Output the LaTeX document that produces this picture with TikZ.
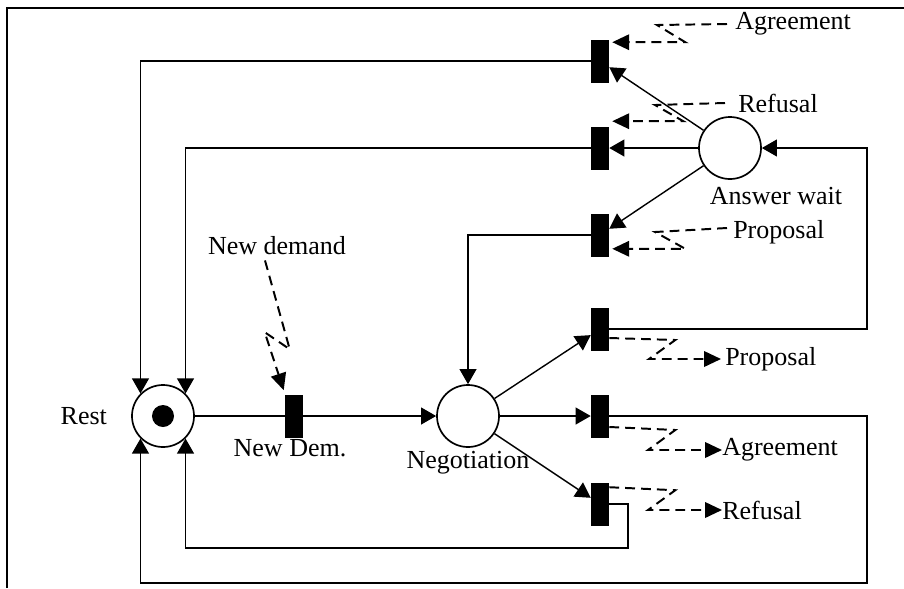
\documentclass[tikz,border=0pt]{standalone}
\usepackage{fontspec}
\setmainfont{Liberation Serif}
\usetikzlibrary{arrows.meta,positioning,calc}

\tikzset{
  place/.style={circle, draw, line width=1.2pt, minimum size=1.55cm, inner sep=0pt},
  trans/.style={rectangle, fill=black, minimum width=0.45cm, minimum height=1.075cm, inner sep=0pt},
  lbl/.style={inner sep=0pt, font=\fontsize{18.5}{22}\selectfont},
  link/.style={line width=1pt},
  arc/.style={line width=1pt, -{Triangle[length=10.7pt,width=12pt]}},
  msg/.style={line width=1.4pt, dash pattern=on 7pt off 4.3pt, -{Triangle[length=12pt,width=11pt]}},
}

\begin{document}
\begin{tikzpicture}[x=0.025cm, y=-0.025cm]
\useasboundingbox (0,0) rectangle (904,588);
\draw[line width=1pt] (7,588) -- (7,8) -- (904,8);

% places
\node[place] (rest) at (163,416) {};
\fill (rest) circle (0.275cm);
\node[place] (nego) at (468,416) {};
\node[place] (wait) at (730,148) {};

% transitions
\node[trans] (tnew) at (294,416) {};
\node[trans] (tagr) at (600,61) {};
\node[trans] (tref) at (600,148) {};
\node[trans] (tprop) at (600,235) {};
\node[trans] (topr) at (600,329) {};
\node[trans] (toagr) at (600,416) {};
\node[trans] (toref) at (600,504) {};

% labels
\node[lbl, left=17pt of rest] (lrest) {Rest};
\node[lbl] (lnewdem) at (290,448) {New Dem.};
\node[lbl, below=2pt of nego] (lnego) {Negotiation};
\node[lbl] (lwait) at (776,196) {Answer wait};
\node[lbl] (lnew) at (277,246) {New demand};
\node[lbl, anchor=west] (lagr) at (735,24) {Agreement};
\node[lbl, anchor=west] (lref) at (738,103) {Refusal};
\node[lbl, anchor=west] (lprop) at (733,232) {Proposal};
\node[lbl, anchor=west] (loprop) at (725,359) {Proposal};
\node[lbl, anchor=west] (loagr) at (722,450) {Agreement};
\node[lbl, anchor=west] (loref) at (722,510) {Refusal};

% arcs
\draw[link] (rest) -- (tnew);
\draw[arc] (tnew) -- (nego);
\draw[arc] (nego) -- (topr);
\draw[arc] (nego) -- (toagr);
\draw[arc] (nego) -- (toref);
\draw[arc] (wait) -- (tagr);
\draw[arc] (wait) -- (tref);
\draw[arc] (wait) -- (tprop);
\draw[arc] (tprop.west) -| (nego.north);
\draw[arc] (tagr.west) -| (rest.north west);
\draw[arc] (tref.west) -| (rest.north east);
\coordinate (cw) at (867,148);
\coordinate (ca) at (867,583);
\coordinate (cr) at (628,548);
\draw[arc] (topr.east) -| (cw) -- (wait.east);
\draw[arc] (toagr.east) -| (ca) -| (rest.south west);
\draw[arc] (toref.east) -| (cr) -| (rest.south east);

% messages
\draw[msg] ($(lnew.south)+(-12,5)$) -- ($(tnew.north west)+(5,-45)$)
  -- ($(tnew.north west)+(-20,-62)$) -- ($(tnew.north west)+(-1,-4)$);
\draw[msg] ($(lagr.west)+(-8,0)$) -- ++(-70,1)
  -- ($(tagr.north east)+(76,3)$) -- ($(tagr.north east)+(3,3)$);
\draw[msg] ($(lref.west)+(-13,0)$) -- ++(-70,2)
  -- ($(tref.north east)+(74,-5)$) -- ($(tref.north east)+(3,-5)$);
\draw[msg] ($(lprop.west)+(-6,-4)$) -- ++(-72,4)
  -- ($(tprop.south east)+(76,-8)$) -- ($(tprop.south east)+(3,-8)$);
\draw[msg] ($(topr.east)+(0,9)$) -- ++(66,2)
  -- ($(loprop.west)+(-76,0)$) -- ($(loprop.west)+(-4,0)$);
\draw[msg] ($(toagr.east)+(0,11)$) -- ++(66,3)
  -- ($(loagr.west)+(-74,0)$) -- (loagr.west);
\draw[msg] ($(toref.north east)+(0,5)$) -- ++(66,3)
  -- ($(loref.west)+(-74,0)$) -- (loref.west);
\end{tikzpicture}
\end{document}
